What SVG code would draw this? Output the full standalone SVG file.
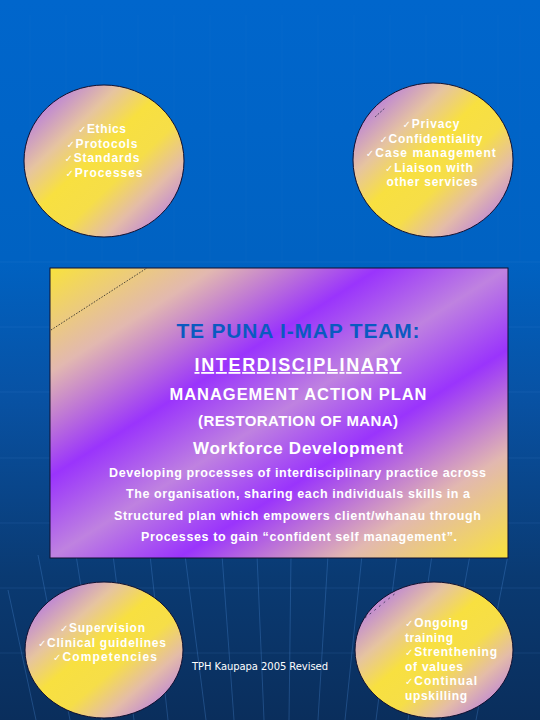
<svg xmlns="http://www.w3.org/2000/svg" width="540" height="720" viewBox="0 0 540 720">
  <defs>
    <linearGradient id="bg" x1="0" y1="0" x2="0" y2="1">
      <stop offset="0" stop-color="#0066cc"/>
      <stop offset="0.36" stop-color="#0062c2"/>
      <stop offset="0.55" stop-color="#0852a4"/>
      <stop offset="0.8" stop-color="#0a3a72"/>
      <stop offset="1" stop-color="#0a2e5c"/>
    </linearGradient>
    <linearGradient id="circ" x1="0" y1="0" x2="1" y2="1">
      <stop offset="0.08" stop-color="#b070e8"/>
      <stop offset="0.3" stop-color="#e6c4a0"/>
      <stop offset="0.45" stop-color="#f8e040"/>
      <stop offset="0.6" stop-color="#f6de48"/>
      <stop offset="0.75" stop-color="#e4bca8"/>
      <stop offset="0.95" stop-color="#b070e8"/>
    </linearGradient>
    <linearGradient id="rectg" x1="0" y1="0" x2="1" y2="1">
      <stop offset="0" stop-color="#f8e23c"/>
      <stop offset="0.18" stop-color="#e2b8b0"/>
      <stop offset="0.36" stop-color="#9a34fc"/>
      <stop offset="0.5" stop-color="#bf82e0"/>
      <stop offset="0.64" stop-color="#9a34fc"/>
      <stop offset="0.82" stop-color="#e2b8b0"/>
      <stop offset="1" stop-color="#f8e23c"/>
    </linearGradient>
    <style>
      .ball { fill: url(#circ); stroke: #101030; stroke-width: 1; }
      .ct { font-family: "Liberation Sans", Arial, sans-serif; font-weight: bold; font-size: 12px; fill: #ffffff; }
      .ck { font-family: "DejaVu Sans", sans-serif; font-weight: normal; font-size: 10px; }
      .grid { stroke: #4f8fdc; stroke-width: 1; fill: none; }
      .rt { font-family: "Liberation Sans", Arial, sans-serif; font-weight: bold; fill: #ffffff; text-anchor: middle; }
    </style>
  </defs>

  <rect width="540" height="720" fill="url(#bg)"/>

  <g id="grid" class="grid">
    <g opacity="0.15">
      <line x1="0" y1="262" x2="540" y2="262"/>
      <line x1="0" y1="327" x2="540" y2="327"/>
      <line x1="0" y1="392" x2="540" y2="392"/>
      <line x1="0" y1="458" x2="540" y2="458"/>
      <line x1="0" y1="523" x2="540" y2="523"/>
      <line x1="0" y1="588" x2="540" y2="588"/>
      <line x1="0" y1="653" x2="540" y2="653"/>
    </g>
    <g opacity="0.05">
      <line x1="30" y1="15" x2="30" y2="262"/>
      <line x1="66" y1="15" x2="66" y2="262"/>
      <line x1="102" y1="15" x2="102" y2="262"/>
      <line x1="138" y1="15" x2="138" y2="262"/>
      <line x1="174" y1="15" x2="174" y2="262"/>
      <line x1="210" y1="15" x2="210" y2="262"/>
      <line x1="246" y1="15" x2="246" y2="262"/>
      <line x1="282" y1="15" x2="282" y2="262"/>
      <line x1="318" y1="15" x2="318" y2="262"/>
      <line x1="354" y1="15" x2="354" y2="262"/>
      <line x1="390" y1="15" x2="390" y2="262"/>
      <line x1="426" y1="15" x2="426" y2="262"/>
      <line x1="462" y1="15" x2="462" y2="262"/>
      <line x1="498" y1="15" x2="498" y2="262"/>
      <line x1="520" y1="15" x2="520" y2="262"/>
    </g>
    <g opacity="0.3">
      <line x1="38" y1="555" x2="70" y2="720"/>
      <line x1="76" y1="555" x2="102" y2="720"/>
      <line x1="113" y1="555" x2="134" y2="720"/>
      <line x1="150" y1="555" x2="168" y2="720"/>
      <line x1="185" y1="555" x2="206" y2="720"/>
      <line x1="222" y1="555" x2="234" y2="720"/>
      <line x1="257" y1="555" x2="264" y2="720"/>
      <line x1="291" y1="555" x2="289" y2="720"/>
      <line x1="328" y1="555" x2="318" y2="720"/>
      <line x1="362" y1="555" x2="345" y2="720"/>
      <line x1="397" y1="555" x2="376" y2="720"/>
      <line x1="432" y1="555" x2="408" y2="720"/>
      <line x1="470" y1="555" x2="440" y2="720"/>
      <line x1="508" y1="555" x2="476" y2="720"/>
      <line x1="8" y1="590" x2="36" y2="720"/>
    </g>
  </g>

  <g id="node-top-left">
    <ellipse class="ball" cx="104" cy="161" rx="80" ry="76"/>
    <text class="ct" text-anchor="middle">
      <tspan x="104" y="133" textLength="48" lengthAdjust="spacing"><tspan class="ck">✓</tspan>Ethics</tspan>
      <tspan x="104" y="147.5" textLength="71" lengthAdjust="spacing"><tspan class="ck">✓</tspan>Protocols</tspan>
      <tspan x="104" y="162" textLength="75" lengthAdjust="spacing"><tspan class="ck">✓</tspan>Standards</tspan>
      <tspan x="104" y="176.5" textLength="77" lengthAdjust="spacing"><tspan class="ck">✓</tspan>Processes</tspan>
    </text>
  </g>

  <g id="node-top-right">
    <ellipse class="ball" cx="433" cy="160" rx="80" ry="77"/>
    <line x1="375" y1="117" x2="385" y2="108" stroke="#303050" stroke-width="0.8" stroke-dasharray="2 1.5"/>
    <text class="ct" text-anchor="middle">
      <tspan x="433" y="128" textLength="57" lengthAdjust="spacing"><tspan class="ck">✓</tspan>Privacy</tspan>
      <tspan x="433" y="142.5" textLength="103" lengthAdjust="spacing"><tspan class="ck">✓</tspan>Confidentiality</tspan>
      <tspan x="433" y="157" textLength="130" lengthAdjust="spacing"><tspan class="ck">✓</tspan>Case management</tspan>
      <tspan x="431" y="171.5" textLength="88" lengthAdjust="spacing"><tspan class="ck">✓</tspan>Liaison with</tspan>
      <tspan x="432" y="186" textLength="91" lengthAdjust="spacing">other services</tspan>
    </text>
  </g>

  <g id="node-center">
    <rect x="50" y="268" width="458" height="290" fill="url(#rectg)" stroke="#101030" stroke-width="1"/>
    <line x1="51" y1="330" x2="147" y2="268" stroke="#202020" stroke-width="0.8" stroke-dasharray="1.5 1.5"/>
    <text class="rt" x="298" y="338" font-size="21" style="fill:#0a5ac0" textLength="243" lengthAdjust="spacing">TE PUNA I-MAP TEAM:</text>
    <text class="rt" x="298" y="371" font-size="18" text-decoration="underline" textLength="207" lengthAdjust="spacing">INTERDISCIPLINARY</text>
    <text class="rt" x="298" y="400" font-size="16.5" textLength="257" lengthAdjust="spacing">MANAGEMENT ACTION PLAN</text>
    <text class="rt" x="298" y="426" font-size="15" textLength="200" lengthAdjust="spacing">(RESTORATION OF MANA)</text>
    <text class="rt" x="298" y="454" font-size="17" textLength="210" lengthAdjust="spacing">Workforce Development</text>
    <text class="rt" x="297.5" y="477" font-size="12.5" textLength="377" lengthAdjust="spacing">Developing processes of interdisciplinary practice across</text>
    <text class="rt" x="298" y="498" font-size="12.5" textLength="344" lengthAdjust="spacing">The organisation, sharing each individuals skills in a</text>
    <text class="rt" x="297.5" y="520" font-size="12.5" textLength="367" lengthAdjust="spacing">Structured plan which empowers client/whanau through</text>
    <text class="rt" x="299" y="541" font-size="12.5" textLength="316" lengthAdjust="spacing">Processes to gain “confident self management”.</text>
  </g>

  <g id="node-bottom-left">
    <ellipse class="ball" cx="104" cy="650" rx="79" ry="68"/>
    <text class="ct" text-anchor="middle">
      <tspan x="104.5" y="632" textLength="85" lengthAdjust="spacing"><tspan class="ck">✓</tspan>Supervision</tspan>
      <tspan x="104" y="646.5" textLength="128" lengthAdjust="spacing"><tspan class="ck">✓</tspan>Clinical guidelines</tspan>
      <tspan x="105" y="661" textLength="104" lengthAdjust="spacing"><tspan class="ck">✓</tspan>Competencies</tspan>
    </text>
  </g>

  <g id="node-bottom-right">
    <ellipse class="ball" cx="434" cy="650" rx="79" ry="68"/>
    <line x1="365" y1="618" x2="397" y2="592" stroke="#303050" stroke-width="0.8" stroke-dasharray="2 4"/>
    <text class="ct">
      <tspan x="405" y="627" textLength="63" lengthAdjust="spacing"><tspan class="ck">✓</tspan>Ongoing</tspan>
      <tspan x="405" y="641.5" textLength="48" lengthAdjust="spacing">training</tspan>
      <tspan x="405" y="656" textLength="92" lengthAdjust="spacing"><tspan class="ck">✓</tspan>Strenthening</tspan>
      <tspan x="405" y="670.5" textLength="58" lengthAdjust="spacing">of values</tspan>
      <tspan x="405" y="685" textLength="72" lengthAdjust="spacing"><tspan class="ck">✓</tspan>Continual</tspan>
      <tspan x="405" y="699.5" textLength="62" lengthAdjust="spacing">upskilling</tspan>
    </text>
  </g>

  <g id="footer">
    <text x="192" y="670" font-family="'DejaVu Sans', sans-serif" font-size="10" fill="#ffffff" textLength="136" lengthAdjust="spacing">TPH Kaupapa 2005 Revised</text>
  </g>
</svg>
